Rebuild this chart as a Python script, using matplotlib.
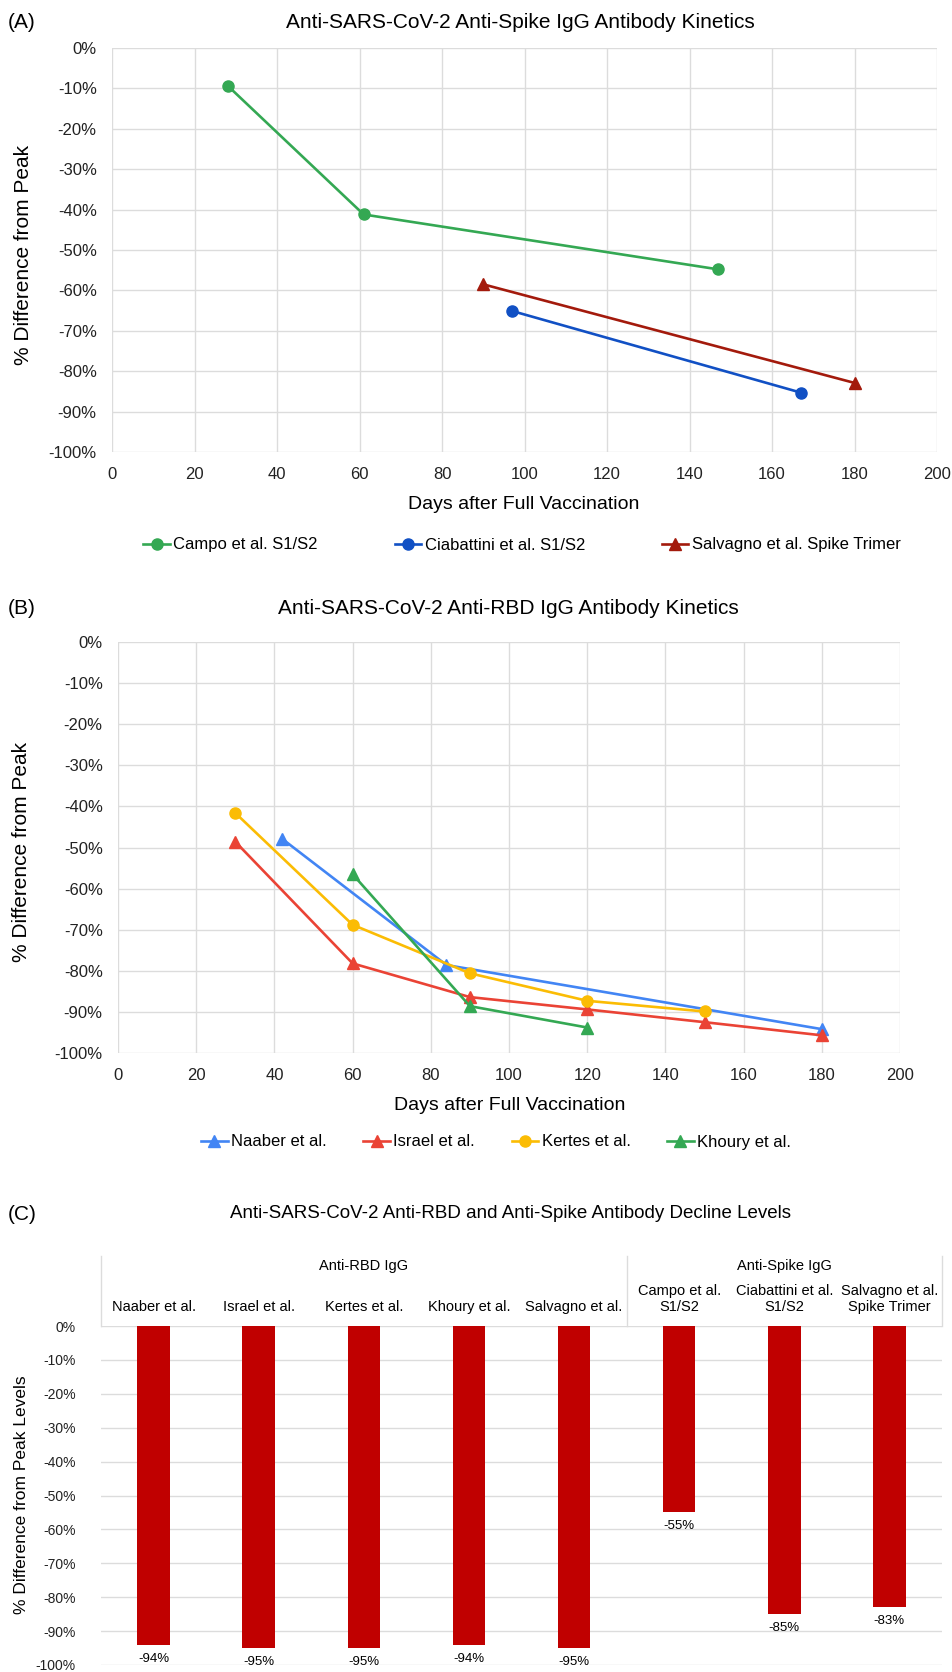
import matplotlib
matplotlib.use("Agg")
import matplotlib.pyplot as plt
from matplotlib.ticker import FuncFormatter, MultipleLocator

plt.rcParams['font.family'] = ['Liberation Sans', 'DejaVu Sans']

W, H = 952, 1672

# ---- panel A : anti-spike IgG kinetics ----
campo_days = [28, 61, 147]
campo_pct = [-9.3, -41.2, -54.8]
ciab_days = [97, 167]
ciab_pct = [-65.1, -85.3]
salv_days = [90, 180]
salv_pct = [-58.5, -82.9]

# ---- panel B : anti-RBD IgG kinetics ----
naaber_days = [42, 84, 180]
naaber_pct = [-47.9, -78.6, -94.2]
israel_days = [30, 60, 90, 120, 150, 180]
israel_pct = [-48.6, -78.2, -86.4, -89.4, -92.5, -95.7]
kertes_days = [30, 60, 90, 120, 150]
kertes_pct = [-41.6, -68.8, -80.6, -87.3, -89.9]
khoury_days = [60, 90, 120]
khoury_pct = [-56.5, -88.6, -93.8]

# ---- panel C : decline levels ----
studies = ['Naaber et al.', 'Israel et al.', 'Kertes et al.', 'Khoury et al.',
           'Salvagno et al.', 'Campo et al.\nS1/S2', 'Ciabattini et al.\nS1/S2',
           'Salvagno et al.\nSpike Trimer']
decline = [-94, -95, -95, -94, -95, -55, -85, -83]
groups = ['Anti-RBD IgG', 'Anti-Spike IgG']
group_size = [5, 3]

GRID = '#dcdcdc'


def box(l, t, r, b):
    return [l / W, 1 - b / H, (r - l) / W, (b - t) / H]


def fy(y):
    return 1 - y / H


def pct(v, pos):
    return f'{int(round(v))}%'


def style_line_axes(ax):
    ax.set_xlim(0, 200)
    ax.set_ylim(-100, 0)
    ax.xaxis.set_major_locator(MultipleLocator(20))
    ax.yaxis.set_major_locator(MultipleLocator(10))
    ax.yaxis.set_major_formatter(FuncFormatter(pct))
    ax.grid(True, color=GRID, lw=1.0)
    ax.set_axisbelow(True)
    for s in ax.spines.values():
        s.set_visible(False)
    ax.tick_params(length=0, labelsize=12, pad=11, colors='#222222')


fig = plt.figure(figsize=(W / 100, H / 100), dpi=100)

lw = 1.9
ms_o, ms_t = 8, 8.5

# panel A
axA = fig.add_axes(box(112, 48, 937, 452))
style_line_axes(axA)
axA.plot(campo_days, campo_pct, color='#34a853', marker='o', lw=lw, ms=ms_o, label='Campo et al. S1/S2')
axA.plot(ciab_days, ciab_pct, color='#1150c4', marker='o', lw=lw, ms=ms_o, label='Ciabattini et al. S1/S2')
axA.plot(salv_days, salv_pct, color='#a31a0c', marker='^', lw=lw, ms=ms_t, label='Salvagno et al. Spike Trimer')
fig.text(8 / W, fy(22), '(A)', fontsize=15, va='center', ha='left')
fig.text(520 / W, fy(22), 'Anti-SARS-CoV-2 Anti-Spike IgG Antibody Kinetics', fontsize=15, ha='center', va='center')
fig.text(524 / W, fy(505), 'Days after Full Vaccination', fontsize=14, ha='center', va='center')
fig.text(24 / W, fy(255), '% Difference from Peak', fontsize=15, rotation=90, ha='center', va='center')
hA, lA = axA.get_legend_handles_labels()
fig.legend(hA, lA, loc='center', bbox_to_anchor=(522 / W, fy(545)), ncol=3, frameon=False,
           fontsize=12, handlelength=1.6, handletextpad=0.2, columnspacing=4.6)

# panel B
axB = fig.add_axes(box(118, 642, 900, 1053))
style_line_axes(axB)
axB.plot(naaber_days, naaber_pct, color='#4285f4', marker='^', lw=lw, ms=ms_t, label='Naaber et al.')
axB.plot(israel_days, israel_pct, color='#ea4335', marker='^', lw=lw, ms=ms_t, label='Israel et al.')
axB.plot(kertes_days, kertes_pct, color='#fbbc04', marker='o', lw=lw, ms=ms_o, label='Kertes et al.')
axB.plot(khoury_days, khoury_pct, color='#34a853', marker='^', lw=lw, ms=ms_t, label='Khoury et al.')
fig.text(8 / W, fy(608), '(B)', fontsize=15, va='center', ha='left')
fig.text(508 / W, fy(608), 'Anti-SARS-CoV-2 Anti-RBD IgG Antibody Kinetics', fontsize=15, ha='center', va='center')
fig.text(510 / W, fy(1106), 'Days after Full Vaccination', fontsize=14, ha='center', va='center')
fig.text(22 / W, fy(852), '% Difference from Peak', fontsize=15, rotation=90, ha='center', va='center')
hB, lB = axB.get_legend_handles_labels()
fig.legend(hB, lB, loc='center', bbox_to_anchor=(496 / W, fy(1142)), ncol=4, frameon=False,
           fontsize=12, handlelength=1.6, handletextpad=0.2, columnspacing=2.2)

# panel C
axC = fig.add_axes(box(101, 1326, 942, 1665))
xs = list(range(len(studies)))
axC.bar(xs, decline, width=0.31, color='#c00000', zorder=3)
axC.set_xlim(-0.5, len(studies) - 0.5)
axC.set_ylim(-100, 0)
axC.yaxis.set_major_locator(MultipleLocator(10))
axC.yaxis.set_major_formatter(FuncFormatter(pct))
axC.grid(True, axis='y', color=GRID, lw=1.0)
axC.set_axisbelow(True)
axC.set_xticks([])
for s in axC.spines.values():
    s.set_visible(False)
axC.tick_params(length=0, labelsize=10, pad=18, colors='#222222')
for x, v in zip(xs, decline):
    axC.annotate(f'{v}%', (x, v), xytext=(0, -10), textcoords='offset points',
                 ha='center', va='center', fontsize=9.5, annotation_clip=False)

# header with group and study names
ht = axC.get_xaxis_transform()
hdr_top = (1665 - 1256) / 339
start = -0.5
for name, n in zip(groups, group_size):
    axC.text(start + n / 2, (1665 - 1266) / 339, name, transform=ht, ha='center', va='center',
             fontsize=10.5, clip_on=False)
    start += n
edges = [-0.5, group_size[0] - 0.5, len(studies) - 0.5]
for e in edges:
    axC.plot([e, e], [1.0, hdr_top], transform=ht, color=GRID, lw=1.0, clip_on=False)
for x, name in zip(xs, studies):
    yy = (1665 - 1299) / 339 if '\n' in name else (1665 - 1307) / 339
    axC.text(x, yy, name, transform=ht, ha='center', va='center', fontsize=10.5,
             linespacing=1.15, clip_on=False)

fig.text(8 / W, fy(1214), '(C)', fontsize=15, va='center', ha='left')
fig.text(511 / W, fy(1214), 'Anti-SARS-CoV-2 Anti-RBD and Anti-Spike Antibody Decline Levels',
         fontsize=13.5, ha='center', va='center')
fig.text(22 / W, fy(1495), '% Difference from Peak Levels', fontsize=12.5, rotation=90, ha='center', va='center')

fig.savefig('out.png', dpi=100)
